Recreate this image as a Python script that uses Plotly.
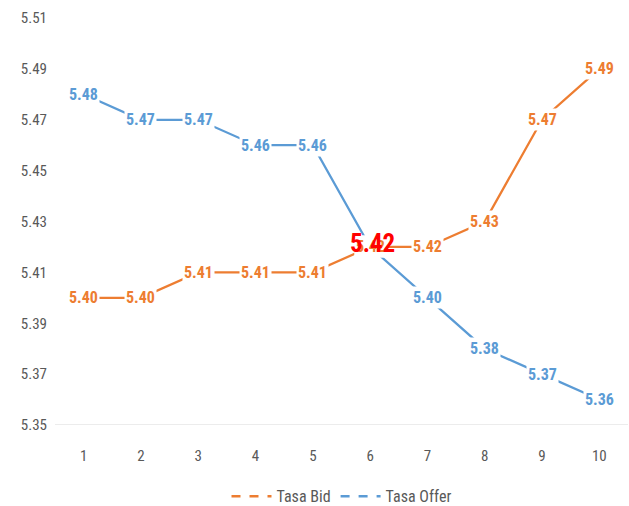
import plotly.graph_objects as go

x_vals = [1, 2, 3, 4, 5, 6, 7, 8, 9, 10]
tasa_bid = [5.40, 5.40, 5.41, 5.41, 5.41, 5.42, 5.42, 5.43, 5.47, 5.49]
tasa_offer = [5.48, 5.47, 5.47, 5.46, 5.46, 5.42, 5.40, 5.38, 5.37, 5.36]
y_ticks = [5.35, 5.37, 5.39, 5.41, 5.43, 5.45, 5.47, 5.49, 5.51]
highlight_x = 6
highlight_value = 5.42

BID = "#ED7D31"
OFFER = "#5B9BD5"
FONT = "Liberation Sans Narrow, Roboto Condensed, Arial, sans-serif"

fig = go.Figure()
fig.add_trace(go.Scatter(x=x_vals, y=tasa_bid, mode="lines", line=dict(color=BID, width=2.25),
                         showlegend=False, hoverinfo="skip"))
fig.add_trace(go.Scatter(x=x_vals, y=tasa_offer, mode="lines", line=dict(color=OFFER, width=2.25),
                         showlegend=False, hoverinfo="skip"))
fig.add_trace(go.Scatter(x=[None], y=[None], mode="lines", name="Tasa Bid",
                         line=dict(color=BID, width=2.5, dash="dash")))
fig.add_trace(go.Scatter(x=[None], y=[None], mode="lines", name="Tasa Offer",
                         line=dict(color=OFFER, width=2.5, dash="dash")))

anns = []
for series, color in ((tasa_offer, OFFER), (tasa_bid, BID)):
    for xv, yv in zip(x_vals, series):
        anns.append(dict(x=xv, y=yv, xref="x", yref="y", text=f"<b>{yv:.2f}</b>", showarrow=False,
                         bgcolor="white", borderpad=1,
                         font=dict(family=FONT, size=16, color=color)))
anns.append(dict(x=highlight_x, y=highlight_value, xref="x", yref="y", text=f"<b>{highlight_value:.2f}</b>",
                 showarrow=False, xshift=2, yshift=3,
                 font=dict(family=FONT, size=25, color="#FF0000")))

fig.update_layout(
    width=629, height=506,
    margin=dict(l=55, r=1, t=18, b=81, autoexpand=False),
    paper_bgcolor="white", plot_bgcolor="white",
    annotations=anns,
    showlegend=True,
    legend=dict(orientation="h", x=0.5, xanchor="center", y=-0.175, yanchor="middle",
                font=dict(family=FONT, size=16, color="#595959"), itemwidth=40),
    xaxis=dict(range=[0.5, 10.5], tickmode="array", tickvals=x_vals, ticktext=[str(v) for v in x_vals],
               showgrid=False, zeroline=False, showline=False, ticks="", automargin=False,
               ticklabelstandoff=20,
               tickfont=dict(family=FONT, size=15, color="#595959")),
    yaxis=dict(range=[5.35, 5.51], tickmode="array", tickvals=y_ticks,
               ticktext=[f"{v:.2f}" for v in y_ticks],
               showgrid=False, zeroline=False, showline=False, ticks="", automargin=False,
               ticklabelstandoff=7,
               tickfont=dict(family=FONT, size=15, color="#595959")),
    shapes=[dict(type="line", xref="paper", yref="y", x0=0, x1=1, y0=5.35, y1=5.35,
                 line=dict(color="#D9D9D9", width=1))],
)

fig.write_html("out.html", config={"displayModeBar": False},
               post_script="document.body.style.margin='0';document.body.style.overflow='hidden';")
